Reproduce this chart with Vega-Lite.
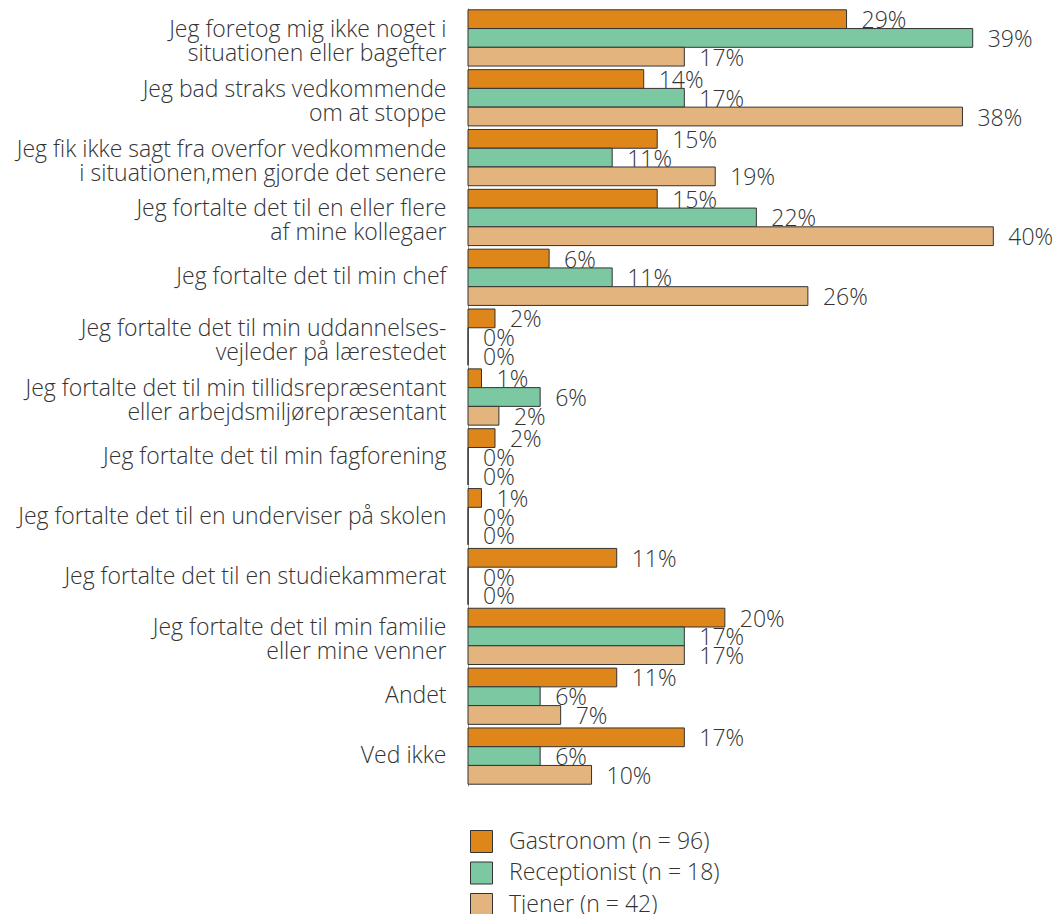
{
  "$schema": "https://vega.github.io/schema/vega-lite/v6.json",
  "autosize": {"type": "none"},
  "padding": {"left": 468, "top": 8, "right": 2, "bottom": 128},
  "width": 584,
  "height": 778,
  "background": "white",
  "config": {
    "view": {"stroke": null},
    "font": "Open Sans",
    "text": {"font": "Open Sans"}
  },
  "data": {
    "values": [
      {"cat": "Jeg foretog mig ikke noget i|situationen eller bagefter", "grp": "Gastronom (n = 96)", "val": 0.2917},
      {"cat": "Jeg foretog mig ikke noget i|situationen eller bagefter", "grp": "Receptionist (n = 18)", "val": 0.3889},
      {"cat": "Jeg foretog mig ikke noget i|situationen eller bagefter", "grp": "Tjener (n = 42)", "val": 0.1667},
      {"cat": "Jeg bad straks vedkommende|om at stoppe", "grp": "Gastronom (n = 96)", "val": 0.1354},
      {"cat": "Jeg bad straks vedkommende|om at stoppe", "grp": "Receptionist (n = 18)", "val": 0.1667},
      {"cat": "Jeg bad straks vedkommende|om at stoppe", "grp": "Tjener (n = 42)", "val": 0.381},
      {"cat": "Jeg fik ikke sagt fra overfor vedkommende|i situationen,men gjorde det senere", "grp": "Gastronom (n = 96)", "val": 0.1458},
      {"cat": "Jeg fik ikke sagt fra overfor vedkommende|i situationen,men gjorde det senere", "grp": "Receptionist (n = 18)", "val": 0.1111},
      {"cat": "Jeg fik ikke sagt fra overfor vedkommende|i situationen,men gjorde det senere", "grp": "Tjener (n = 42)", "val": 0.1905},
      {"cat": "Jeg fortalte det til en eller flere|af mine kollegaer", "grp": "Gastronom (n = 96)", "val": 0.1458},
      {"cat": "Jeg fortalte det til en eller flere|af mine kollegaer", "grp": "Receptionist (n = 18)", "val": 0.2222},
      {"cat": "Jeg fortalte det til en eller flere|af mine kollegaer", "grp": "Tjener (n = 42)", "val": 0.4048},
      {"cat": "Jeg fortalte det til min chef", "grp": "Gastronom (n = 96)", "val": 0.0625},
      {"cat": "Jeg fortalte det til min chef", "grp": "Receptionist (n = 18)", "val": 0.1111},
      {"cat": "Jeg fortalte det til min chef", "grp": "Tjener (n = 42)", "val": 0.2619},
      {"cat": "Jeg fortalte det til min uddannelses-|vejleder på lærestedet", "grp": "Gastronom (n = 96)", "val": 0.0208},
      {"cat": "Jeg fortalte det til min uddannelses-|vejleder på lærestedet", "grp": "Receptionist (n = 18)", "val": 0},
      {"cat": "Jeg fortalte det til min uddannelses-|vejleder på lærestedet", "grp": "Tjener (n = 42)", "val": 0},
      {"cat": "Jeg fortalte det til min tillidsrepræsentant|eller arbejdsmiljørepræsentant", "grp": "Gastronom (n = 96)", "val": 0.0104},
      {"cat": "Jeg fortalte det til min tillidsrepræsentant|eller arbejdsmiljørepræsentant", "grp": "Receptionist (n = 18)", "val": 0.0556},
      {"cat": "Jeg fortalte det til min tillidsrepræsentant|eller arbejdsmiljørepræsentant", "grp": "Tjener (n = 42)", "val": 0.0238},
      {"cat": "Jeg fortalte det til min fagforening", "grp": "Gastronom (n = 96)", "val": 0.0208},
      {"cat": "Jeg fortalte det til min fagforening", "grp": "Receptionist (n = 18)", "val": 0},
      {"cat": "Jeg fortalte det til min fagforening", "grp": "Tjener (n = 42)", "val": 0},
      {"cat": "Jeg fortalte det til en underviser på skolen", "grp": "Gastronom (n = 96)", "val": 0.0104},
      {"cat": "Jeg fortalte det til en underviser på skolen", "grp": "Receptionist (n = 18)", "val": 0},
      {"cat": "Jeg fortalte det til en underviser på skolen", "grp": "Tjener (n = 42)", "val": 0},
      {"cat": "Jeg fortalte det til en studiekammerat", "grp": "Gastronom (n = 96)", "val": 0.1146},
      {"cat": "Jeg fortalte det til en studiekammerat", "grp": "Receptionist (n = 18)", "val": 0},
      {"cat": "Jeg fortalte det til en studiekammerat", "grp": "Tjener (n = 42)", "val": 0},
      {"cat": "Jeg fortalte det til min familie|eller mine venner", "grp": "Gastronom (n = 96)", "val": 0.1979},
      {"cat": "Jeg fortalte det til min familie|eller mine venner", "grp": "Receptionist (n = 18)", "val": 0.1667},
      {"cat": "Jeg fortalte det til min familie|eller mine venner", "grp": "Tjener (n = 42)", "val": 0.1667},
      {"cat": "Andet", "grp": "Gastronom (n = 96)", "val": 0.1146},
      {"cat": "Andet", "grp": "Receptionist (n = 18)", "val": 0.0556},
      {"cat": "Andet", "grp": "Tjener (n = 42)", "val": 0.0714},
      {"cat": "Ved ikke", "grp": "Gastronom (n = 96)", "val": 0.1667},
      {"cat": "Ved ikke", "grp": "Receptionist (n = 18)", "val": 0.0556},
      {"cat": "Ved ikke", "grp": "Tjener (n = 42)", "val": 0.0952}
    ]
  },
  "encoding": {
    "y": {
      "field": "cat",
      "type": "nominal",
      "sort": null,
      "scale": {"paddingInner": 0.06, "paddingOuter": 0.03},
      "axis": {
        "title": null,
        "labelExpr": "split(datum.label, '|')",
        "labelFontSize": 23,
        "labelFont": "Open Sans",
        "labelFontWeight": 300,
        "labelColor": "#333333",
        "labelLineHeight": 24,
        "labelPadding": 22,
        "labelLimit": 600,
        "labelOffset": {"condition": {"test": "indexof(datum.value, '|') >= 0", "value": -8}, "value": 0},
        "ticks": false,
        "grid": false,
        "domain": true,
        "domainColor": "#999999",
        "domainWidth": 1
      }
    },
    "yOffset": {
      "field": "grp",
      "type": "nominal",
      "sort": ["Gastronom (n = 96)", "Receptionist (n = 18)", "Tjener (n = 42)"],
      "scale": {"paddingInner": 0, "paddingOuter": 0}
    },
    "x": {
      "field": "val",
      "type": "quantitative",
      "scale": {"domain": [0, 0.45], "nice": false},
      "axis": null
    }
  },
  "layer": [
    {
      "mark": {"type": "bar", "stroke": "#333333", "strokeWidth": 1},
      "encoding": {
        "color": {
          "field": "grp",
          "type": "nominal",
          "scale": {
            "domain": ["Gastronom (n = 96)", "Receptionist (n = 18)", "Tjener (n = 42)"],
            "range": ["#DF861A", "#7BC8A2", "#E3B47E"]
          },
          "legend": {
            "title": null,
            "orient": "none",
            "legendX": 2,
            "legendY": 822,
            "direction": "vertical",
            "symbolType": "square",
            "symbolSize": 484,
            "symbolStrokeColor": "#333333",
            "symbolStrokeWidth": 1,
            "symbolOpacity": 1,
            "labelFontSize": 23,
            "labelFont": "Open Sans",
            "labelFontWeight": 300,
            "labelColor": "#333333",
            "labelOffset": 16,
            "rowPadding": 4.5,
            "labelLimit": 400
          }
        }
      }
    },
    {
      "mark": {"type": "text", "align": "left", "baseline": "middle", "dx": 15, "dy": 2, "fontSize": 23, "font": "Open Sans", "fontWeight": 300, "color": "#333333"},
      "encoding": {
        "text": {"field": "val", "type": "quantitative", "format": ".0%"}
      }
    }
  ]
}
